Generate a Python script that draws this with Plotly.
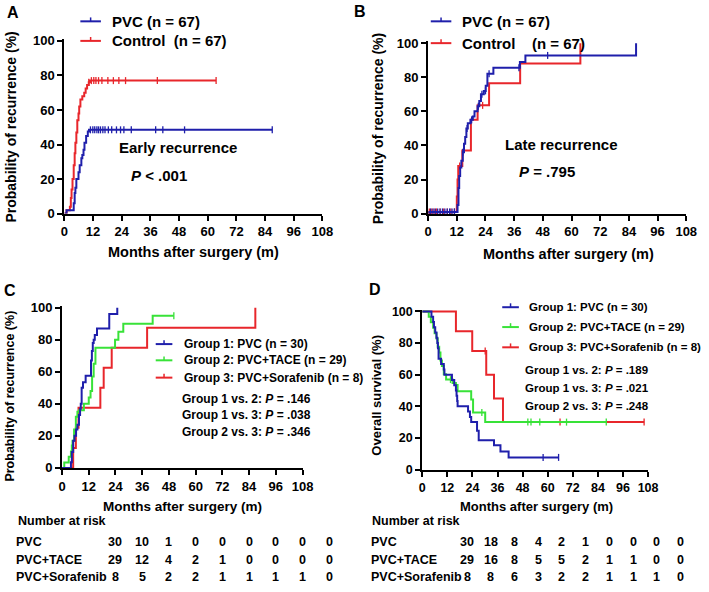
import plotly.graph_objects as go

W, H = 709, 592
FONT = "Arial, 'Liberation Sans', Helvetica, sans-serif"
BLUE, RED, GREEN = "#1f1fab", "#e8262b", "#38e238"

MONTH_TICKS = [0, 12, 24, 36, 48, 60, 72, 84, 96, 108]
PCT_TICKS = [0, 20, 40, 60, 80, 100]

# ---------------- Panel A: early recurrence ----------------
A_PVC_T = [0, 0.9, 3.9, 4.3, 4.6, 5.0, 5.9, 6.4, 7.1, 7.5, 8.0, 8.4, 9.1, 9.8, 10.3]
A_PVC_Y = [0, 2, 6, 12, 15, 20, 24, 28, 32, 34, 37, 41, 45, 47.5, 48.5]
A_PVC_END = 87.0
A_PVC_CENS = [10.9, 11.9, 12.7, 13.6, 14.3, 15.1, 16.1, 17.0, 18.4, 19.8, 21.8, 23.5, 24.9, 28.0, 38.2, 41.2, 50.3, 87.0]

A_CTRL_T = [0, 0.9, 2.3, 2.7, 3.0, 3.4, 3.9, 4.3, 4.6, 5.0, 5.4, 5.9, 6.2, 6.7, 7.5, 8.3, 8.9, 9.5, 10.2, 10.7]
A_CTRL_Y = [0, 2, 4, 9, 14, 20, 28, 35, 41, 47, 54, 58, 62, 66, 68, 70, 72.5, 74.5, 76, 77]
A_CTRL_END = 63.5
A_CTRL_CENS = [10.2, 11.3, 12.3, 13.2, 14.3, 15.7, 18.2, 20.5, 22.8, 25.6, 38.9, 63.5]

# ---------------- Panel B: late recurrence ----------------
B_PVC_T = [0, 0.5, 12.3, 12.7, 13.0, 13.4, 13.9, 14.5, 15.0, 15.5, 16.0, 16.6, 17.7, 18.7, 19.4, 20.7, 21.4, 22.1, 23.3, 24.1, 24.8, 27.3, 38.4, 40.7, 87.0]
B_PVC_Y = [0, 1, 5, 15, 22, 27, 31, 36, 41, 45, 50, 53, 55, 57, 60, 63, 66, 70, 72, 75, 82, 85.5, 89, 92.8, 100]
B_PVC_END = 87.0
B_PVC_CENS = [1, 2, 3, 4, 5, 6, 7, 8, 9, 10, 11, 14.5, 16.3, 18.2, 21.0, 22.5, 24.0, 25.5, 38.0, 50.0]

B_CTRL_T = [0, 0.5, 12.0, 12.3, 12.6, 14.3, 17.9, 20.7, 25.5, 38.5, 63.7]
B_CTRL_Y = [0, 1, 10, 20, 28, 37, 55, 63.5, 76.5, 88, 100]
B_CTRL_END = 63.7
B_CTRL_CENS = [0.5, 1.5, 2.5, 3.5, 5.0, 6.5, 8.0, 9.5, 11.0, 13.2, 22.8]

# ---------------- Panel C: recurrence by treatment ----------------
C_PVC_T = [0, 4.0, 4.4, 5.0, 5.6, 6.3, 6.9, 7.6, 8.1, 8.4, 8.8, 9.4, 10.6, 13.0, 13.4, 13.8, 14.2, 14.7, 15.7, 21.2, 24.8]
C_PVC_Y = [0, 3.5, 10, 17, 20, 24, 27, 33, 37, 40, 50, 53.5, 57.5, 67, 73, 78, 80, 83, 87, 96, 100]
C_PVC_END = 24.8
C_PVC_CENS = []

C_TACE_T = [0, 1.0, 3.0, 4.0, 4.4, 4.7, 5.4, 6.2, 6.9, 7.6, 9.8, 12.0, 12.8, 13.5, 14.2, 15.0, 23.8, 25.3, 27.5, 40.7]
C_TACE_Y = [0, 3.4, 6.9, 10.3, 14, 17, 24, 32, 35, 36, 40, 44, 48, 57, 65, 75, 80, 85, 90, 95]
C_TACE_END = 50.2
C_TACE_CENS = [50.2]

C_SORA_T = [0, 5.0, 6.2, 7.4, 17.2, 18.7, 22.3, 38.2, 86.8]
C_SORA_Y = [0, 12.5, 25, 37.5, 50, 62.5, 75, 87.5, 100]
C_SORA_END = 86.8
C_SORA_CENS = []

# ---------------- Panel D: overall survival ----------------
D_PVC_T = [0, 4.4, 5.2, 5.6, 6.2, 6.8, 7.2, 7.5, 7.8, 9.0, 10.3, 10.6, 14.2, 15.3, 16.1, 16.4, 16.7, 16.9, 21.9, 22.8, 23.4, 26.2, 27.0, 34.3, 37.4, 41.3]
D_PVC_Y = [100, 96.7, 93.3, 90, 86.7, 83.3, 80, 76.7, 70, 66.7, 63.3, 60, 56.7, 53.3, 50, 46.7, 43.3, 40, 36.7, 33.3, 30, 24.5, 18.5, 15.3, 11.5, 7.7]
D_PVC_END = 65.2
D_PVC_CENS = [57.8, 65.2]

D_TACE_T = [0, 3.1, 4.1, 5.2, 5.9, 6.8, 7.4, 8.1, 8.7, 9.4, 10.3, 11.4, 14.5, 16.1, 16.9, 23.4, 24.3, 30.1]
D_TACE_Y = [100, 96.6, 93.1, 89.7, 86.2, 82.8, 77.6, 74.1, 69.0, 65.5, 60.3, 56.9, 54.8, 53.4, 49.5, 44.3, 36.1, 30.0]
D_TACE_END = 88.0
D_TACE_CENS = [13.5, 28.5, 50.5, 52.0, 56.2, 69.0, 88.0]

D_SORA_T = [0, 16.1, 23.9, 30.6, 34.3, 38.6]
D_SORA_Y = [100, 87.5, 75, 60, 45, 30]
D_SORA_END = 106.1
D_SORA_CENS = [30.1, 65.9, 106.1]

# ---------------- Number at risk ----------------
RISK_ROWS = ["PVC", "PVC+TACE", "PVC+Sorafenib"]
RISK_TIMES_C = [0, 12, 24, 36, 48, 60, 72, 84, 96]
RISK_C = [
    [30, 10, 1, 0, 0, 0, 0, 0, 0],
    [29, 12, 4, 2, 1, 0, 0, 0, 0],
    [8, 5, 2, 2, 1, 1, 1, 1, 0],
]
RISK_TIMES_D = [0, 12, 24, 36, 48, 60, 72, 84, 96, 108]
RISK_D = [
    [30, 18, 8, 4, 2, 1, 0, 0, 0, 0],
    [29, 16, 8, 5, 5, 2, 1, 1, 0, 0],
    [8, 8, 6, 3, 2, 2, 1, 1, 1, 0],
]

# ---------------- layout geometry (pixels) ----------------
PANEL_PX = {
    1: dict(x0=61.7, x1=325.3, yb=213.3, yt=36.7),
    2: dict(x0=433.3, x1=697.0, yb=213.3, yt=39.0),
    3: dict(x0=59.3, x1=305.0, yb=473.3, yt=309.5),
    4: dict(x0=427.3, x1=658.0, yb=475.0, yt=313.3),
}
XMAX = 108
YMAX = 101.2


def px_x(px):
    return px / W


def px_y(py):
    return 1 - py / H


def step_value(T, Y, t):
    v = Y[0]
    for ti, yi in zip(T, Y):
        if ti <= t:
            v = yi
    return v


fig = go.Figure()
axes = {}
for i, p in PANEL_PX.items():
    sfx = "" if i == 1 else str(i)
    ytop = p["yb"] - (p["yb"] - p["yt"]) * YMAX / 100
    common = dict(showline=True, linecolor="black", linewidth=2, ticks="outside", ticklen=5,
                  tickwidth=2, tickcolor="black", showgrid=False, zeroline=False,
                  tickfont=dict(family=FONT, size=13 if i < 4 else 12.5, color="black", weight="bold"),
                  fixedrange=True)
    axes["xaxis" + sfx] = dict(domain=[px_x(p["x0"]), px_x(p["x1"])], range=[0, XMAX],
                               tickvals=MONTH_TICKS, anchor="y" + sfx, **common)
    axes["yaxis" + sfx] = dict(domain=[px_y(p["yb"]), px_y(ytop)], range=[0, YMAX],
                               tickvals=PCT_TICKS, anchor="x" + sfx, **common)


def add_curve(panel, T, Y, end, cens, color):
    sfx = "" if panel == 1 else str(panel)
    xs = list(T) + [end]
    ys = list(Y) + [Y[-1]]
    fig.add_trace(go.Scatter(x=xs, y=ys, mode="lines", line=dict(color=color, width=2, shape="hv"),
                             xaxis="x" + sfx, yaxis="y" + sfx, hoverinfo="skip"))
    if cens:
        cy = [step_value(T, Y, c) for c in cens]
        fig.add_trace(go.Scatter(x=cens, y=cy, mode="markers", cliponaxis=False,
                                 marker=dict(symbol="line-ns", size=5, color=color,
                                             line=dict(color=color, width=1.3)),
                                 xaxis="x" + sfx, yaxis="y" + sfx, hoverinfo="skip"))


add_curve(1, A_CTRL_T, A_CTRL_Y, A_CTRL_END, A_CTRL_CENS, RED)
add_curve(1, A_PVC_T, A_PVC_Y, A_PVC_END, A_PVC_CENS, BLUE)
add_curve(2, B_CTRL_T, B_CTRL_Y, B_CTRL_END, B_CTRL_CENS, RED)
add_curve(2, B_PVC_T, B_PVC_Y, B_PVC_END, B_PVC_CENS, BLUE)
add_curve(3, C_SORA_T, C_SORA_Y, C_SORA_END, C_SORA_CENS, RED)
add_curve(3, C_TACE_T, C_TACE_Y, C_TACE_END, C_TACE_CENS, GREEN)
add_curve(3, C_PVC_T, C_PVC_Y, C_PVC_END, C_PVC_CENS, BLUE)
add_curve(4, D_SORA_T, D_SORA_Y, D_SORA_END, D_SORA_CENS, RED)
add_curve(4, D_TACE_T, D_TACE_Y, D_TACE_END, D_TACE_CENS, GREEN)
add_curve(4, D_PVC_T, D_PVC_Y, D_PVC_END, D_PVC_CENS, BLUE)

annotations = []
shapes = []


def ann(text, x, y, size, xanchor="center", yanchor="middle", angle=0, bold=True):
    annotations.append(dict(text=text, x=px_x(x), y=px_y(y), xref="paper", yref="paper",
                            xanchor=xanchor, yanchor=yanchor, showarrow=False, textangle=angle,
                            font=dict(family=FONT, size=size, color="black",
                                      weight="bold" if bold else "normal")))


def legend_line(x0, x1, y, color):
    shapes.append(dict(type="line", xref="paper", yref="paper", x0=px_x(x0), x1=px_x(x1),
                       y0=px_y(y), y1=px_y(y), line=dict(color=color, width=2)))
    xm = (x0 + x1) / 2
    shapes.append(dict(type="line", xref="paper", yref="paper", x0=px_x(xm), x1=px_x(xm),
                       y0=px_y(y), y1=px_y(y - 4), line=dict(color=color, width=1.5)))


NB = "\u00a0"
# panel letters
ann("A", 9, 8, 16)
ann("B", 364, 7, 16)
ann("C", 6, 292, 16)
ann("D", 379, 291, 16)

# Panel A texts
legend_line(78, 99, 16.7, BLUE)
legend_line(78, 99, 36.7, RED)
ann("PVC (n = 67)", 108, 16.7, 15, xanchor="left")
ann("Control" + NB * 2 + "(n = 67)", 108, 36.7, 15, xanchor="left")
ann("Early recurrence", 177.5, 145.7, 15)
ann("<i>P</i> &lt; .001", 158, 174.3, 15)
ann("Probability of recurrence (%)", 7.5, 125, 14, angle=-90)
ann("Months after surgery (m)", 194, 253, 14.5)

# Panel B texts
legend_line(436, 457, 16.7, BLUE)
legend_line(436, 457, 39, RED)
ann("PVC (n = 67)", 466, 16.7, 15, xanchor="left")
ann("Control" + NB * 4 + "(n = 67)", 466, 39, 15, xanchor="left")
ann("Late recurrence", 570, 142.7, 15)
ann("<i>P</i> = .795", 555, 170.7, 15)
ann("Probability of recurrence (%)", 382, 126, 14, angle=-90)
ann("Months after surgery (m)", 577, 255, 14.5)

# Panel C texts
for yy, col, txt in [(346.7, BLUE, "Group 1: PVC (n = 30)"),
                     (363.3, GREEN, "Group 2: PVC+TACE (n = 29)"),
                     (381.0, RED, "Group 3: PVC+Sorafenib (n = 8)")]:
    legend_line(155, 172, yy, col)
    ann(txt, 181.7, yy, 12, xanchor="left")
ann("Group 1 vs. 2: <i>P</i> = .146", 180, 402.7, 12, xanchor="left")
ann("Group 1 vs. 3: <i>P</i> = .038", 180, 419.3, 12, xanchor="left")
ann("Group 2 vs. 3: <i>P</i> = .346", 179.3, 436.7, 12, xanchor="left")
ann("Probability of recurrence (%)", 6.5, 400, 12.5, angle=-90)
ann("Months after surgery (m)", 182, 513, 13.5)

# Panel D texts
for yy, col, txt in [(309.0, BLUE, "Group 1: PVC (n = 30)"),
                     (329.3, GREEN, "Group 2: PVC+TACE (n = 29)"),
                     (350.0, RED, "Group 3: PVC+Sorafenib (n = 8)")]:
    legend_line(509, 526, yy, col)
    ann(txt, 534, yy, 11.5, xanchor="left")
ann("Group 1 vs. 2: <i>P</i> = .189", 530, 373.3, 11.5, xanchor="left")
ann("Group 1 vs. 3: <i>P</i> = .021", 530, 391.7, 11.5, xanchor="left")
ann("Group 2 vs. 3: <i>P</i> = .248", 530, 410, 11.5, xanchor="left")
ann("Overall survival (%)", 381, 398.5, 13, angle=-90)
ann("Months after surgery (m)", 544, 513, 13)


# Number-at-risk tables (columns placed on each panel's month scale)
def axis_px(panel, month):
    p = PANEL_PX[panel]
    return p["x0"] + (p["x1"] - p["x0"]) * month / XMAX


ROW_Y = [549, 567, 585]
ann("Number at risk", 12, 528, 12.5, xanchor="left")
ann("Number at risk", 374, 528, 12.5, xanchor="left")
for r, name in enumerate(RISK_ROWS):
    ann(name, 10, ROW_Y[r], 12.5, xanchor="left")
    ann(name, 373, ROW_Y[r], 12.5, xanchor="left")
    for t, v in zip(RISK_TIMES_C, RISK_C[r]):
        ann(str(v), axis_px(3, t + 24), ROW_Y[r], 12.5)
    for t, v in zip(RISK_TIMES_D, RISK_D[r]):
        ann(str(v), axis_px(4, 21.5 + 0.944 * t), ROW_Y[r], 12.5)

fig.update_layout(width=W, height=H, autosize=False, margin=dict(l=0, r=0, t=0, b=0),
                  paper_bgcolor="white", plot_bgcolor="white", showlegend=False,
                  annotations=annotations, shapes=shapes, **axes)

fig.write_html("out.html", config={"displayModeBar": False, "staticPlot": True},
               post_script="document.body.style.margin='0';document.body.style.padding='0';")
